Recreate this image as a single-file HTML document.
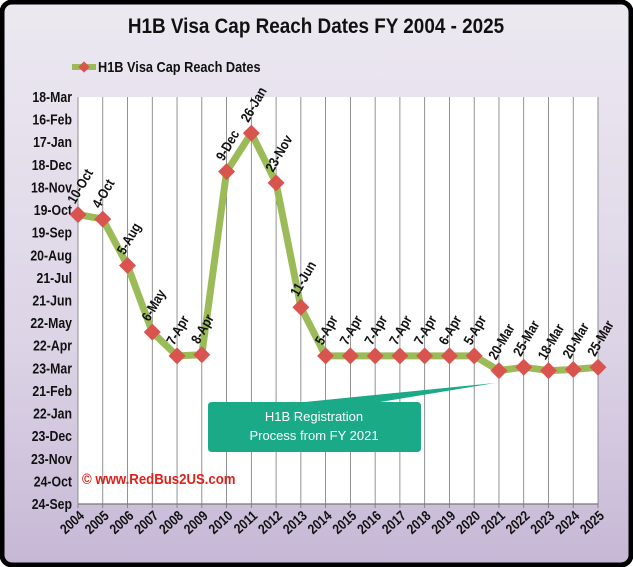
<!DOCTYPE html>
<html><head><meta charset="utf-8"><style>
html,body{margin:0;padding:0;background:#fff}
svg{display:block}
text{font-family:"Liberation Sans",sans-serif;font-weight:bold}
</style></head><body>
<svg id="chart" width="633" height="567" viewBox="0 0 633 567">
<defs>
<linearGradient id="bg" x1="0" y1="0" x2="0" y2="1">
<stop offset="0" stop-color="#ece9f1"/><stop offset="0.6" stop-color="#ddd4e6"/><stop offset="1" stop-color="#c6b8d6"/>
</linearGradient>
</defs>
<rect x="2" y="2" width="629" height="563" rx="10" fill="url(#bg)" stroke="#000" stroke-width="5"/>
<text transform="translate(316 33) scale(0.9 1)" text-anchor="middle" font-size="21" fill="#111">H1B Visa  Cap Reach Dates FY 2004 - 2025</text>
<g>
<line x1="72" y1="67" x2="96" y2="67" stroke="#9bbb59" stroke-width="6"/>
<rect x="80" y="63" width="8" height="8" fill="#d9534f" transform="rotate(45 84 67)"/>
<text transform="translate(98 72) scale(0.85 1)" font-size="15" fill="#111">H1B Visa Cap Reach Dates</text>
</g>
<rect x="78" y="97" width="520" height="407" fill="#fff"/>
<g id="grid"></g>
<g id="yaxis"></g>
<g id="xaxis"></g>
<g id="series"></g>
<g id="labels"></g>
<g>
<path d="M212 402 H305 L495 383 L380 402 H417 Q421 402 421 406 V448 Q421 452 417 452 H212 Q208 452 208 448 V406 Q208 402 212 402 Z" fill="#1aaa87"/>
<text x="314" y="421" text-anchor="middle" font-size="13" fill="#fff" style="font-weight:normal">H1B Registration</text>
<text x="314" y="440" text-anchor="middle" font-size="13" fill="#fff" style="font-weight:normal">Process from FY 2021</text>
</g>
<text transform="translate(82 484) scale(0.88 1)" font-size="15" fill="#e0201a">© www.RedBus2US.com</text>
</svg>
<script>
const years = ["2004","2005","2006","2007","2008","2009","2010","2011","2012","2013","2014","2015","2016","2017","2018","2019","2020","2021","2022","2023","2024","2025"];
const values = [12.8,12.6,10.55,7.6,6.55,6.6,14.7,16.4,14.2,8.7,6.55,6.55,6.55,6.55,6.55,6.55,6.55,5.9,6.05,5.9,5.95,6.05];
const pointLabels = ["10-Oct","4-Oct","5-Aug","6-May","7-Apr","8-Apr","9-Dec","26-Jan","23-Nov","11-Jun","5-Apr","7-Apr","7-Apr","7-Apr","7-Apr","6-Apr","5-Apr","20-Mar","25-Mar","18-Mar","20-Mar","25-Mar"];
const yTicks = ["24-Sep","24-Oct","23-Nov","23-Dec","22-Jan","21-Feb","23-Mar","22-Apr","22-May","21-Jun","21-Jul","20-Aug","19-Sep","19-Oct","18-Nov","18-Dec","17-Jan","16-Feb","18-Mar"];

const NS="http://www.w3.org/2000/svg";
const L=78,R=598,T=97,B=504;
const x=i=>L+i*(R-L)/(years.length-1);
const y=v=>B-v*(B-T)/(yTicks.length-1);
function mk(tag,parent,attrs){const e=document.createElementNS(NS,tag);for(const k in attrs)e.setAttribute(k,attrs[k]);document.getElementById(parent).appendChild(e);return e;}

years.forEach((yr,i)=>{
  const g=mk('line','grid',{x1:x(i),x2:x(i),y1:T,y2:B+4,stroke:'#777','stroke-width':0.8});
  
  
  const t=mk('text','xaxis',{x:0,y:0,'font-size':14,fill:'#111','text-anchor':'end',transform:`translate(${x(i)+7} ${B+13}) rotate(-42) scale(0.85 1)`});
  t.textContent=yr;
  
  
});
const ax=mk('line','xaxis',{x1:L,x2:R,y1:B,y2:B,stroke:'#777','stroke-width':1.2});


yTicks.forEach((lb,j)=>{
  const t=mk('text','yaxis',{x:0,y:0,'font-size':15,fill:'#111','text-anchor':'end',transform:`translate(72 ${y(j)+5}) scale(0.82 1)`});
  t.textContent=lb;
  
  
});
const pts=values.map((v,i)=>x(i)+','+y(v)).join(' ');
const pl=mk('polyline','series',{points:pts,fill:'none',stroke:'#9bbb59','stroke-width':7,'stroke-linejoin':'round'});


values.forEach((v,i)=>{
  const px=x(i),py=y(v);
  const m=mk('rect','series',{x:px-6,y:py-6,width:12,height:12,fill:'#d9534f',transform:`rotate(45 ${px} ${py})`});
  
  
  const t=mk('text','labels',{x:0,y:0,'font-size':14,fill:'#111',transform:`translate(${px-3} ${py-10}) rotate(-60) scale(0.85 1)`});
  t.textContent=pointLabels[i];
  
  
});
</script>
</body></html>
